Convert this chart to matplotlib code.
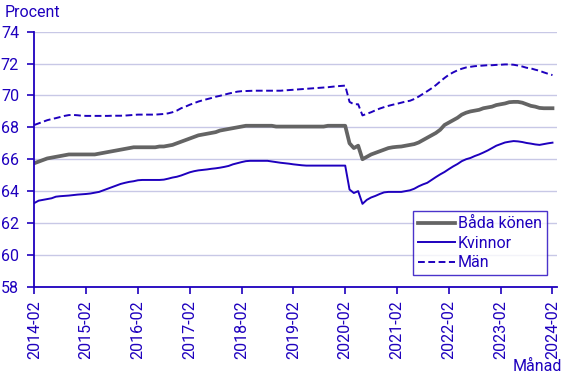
import numpy as np
import pandas as pd
import matplotlib
matplotlib.use('Agg')
import matplotlib.pyplot as plt

# monthly values 2014-02 .. 2024-02, one row per 12 months
bada = [
    65.75, 65.85, 65.95, 66.05, 66.1, 66.15, 66.2, 66.25, 66.3, 66.3, 66.3, 66.3,
    66.3, 66.3, 66.3, 66.35, 66.4, 66.45, 66.5, 66.55, 66.6, 66.65, 66.7, 66.75,
    66.75, 66.75, 66.75, 66.75, 66.75, 66.8, 66.8, 66.85, 66.9, 67.0, 67.1, 67.2,
    67.3, 67.4, 67.5, 67.55, 67.6, 67.65, 67.7, 67.8, 67.85, 67.9, 67.95, 68.0,
    68.05, 68.1, 68.1, 68.1, 68.1, 68.1, 68.1, 68.1, 68.05, 68.05, 68.05, 68.05,
    68.05, 68.05, 68.05, 68.05, 68.05, 68.05, 68.05, 68.05, 68.1, 68.1, 68.1, 68.1,
    68.1, 67.0, 66.7, 66.85, 66.0, 66.15, 66.3, 66.4, 66.5, 66.6, 66.7, 66.75,
    66.78, 66.8, 66.85, 66.9, 66.95, 67.05, 67.2, 67.35, 67.5, 67.65, 67.85, 68.15,
    68.3, 68.45, 68.6, 68.8, 68.92, 69.0, 69.05, 69.1, 69.2, 69.25, 69.3, 69.4,
    69.45, 69.5, 69.58, 69.6, 69.6, 69.55, 69.45, 69.35, 69.3, 69.22, 69.2, 69.2,
    69.2,
]
kvinnor = [
    63.25, 63.4, 63.45, 63.5, 63.55, 63.65, 63.68, 63.7, 63.72, 63.75, 63.78, 63.8,
    63.82, 63.85, 63.9, 63.95, 64.05, 64.15, 64.25, 64.35, 64.45, 64.52, 64.58, 64.62,
    64.68, 64.7, 64.7, 64.7, 64.7, 64.7, 64.72, 64.78, 64.85, 64.9, 64.98, 65.08,
    65.18, 65.25, 65.3, 65.33, 65.36, 65.4, 65.43, 65.47, 65.52, 65.58, 65.68, 65.75,
    65.82, 65.88, 65.9, 65.9, 65.9, 65.9, 65.9, 65.86, 65.82, 65.78, 65.75, 65.72,
    65.68, 65.65, 65.62, 65.6, 65.6, 65.6, 65.6, 65.6, 65.6, 65.6, 65.6, 65.6,
    65.6, 64.1, 63.88, 64.0, 63.2, 63.45, 63.6, 63.7, 63.82, 63.92, 63.95, 63.95,
    63.95, 63.95, 64.0, 64.05, 64.15, 64.3, 64.42, 64.52, 64.7, 64.88, 65.05, 65.2,
    65.38, 65.55, 65.7, 65.88, 66.0, 66.08, 66.2, 66.3, 66.42, 66.55, 66.7, 66.85,
    66.95, 67.05, 67.1, 67.14, 67.12, 67.08, 67.02, 66.98, 66.93, 66.9, 66.95, 67.0,
    67.04,
]
man = [
    68.15, 68.25, 68.35, 68.45, 68.52, 68.58, 68.65, 68.72, 68.77, 68.78, 68.76, 68.73,
    68.72, 68.72, 68.72, 68.72, 68.72, 68.72, 68.73, 68.73, 68.73, 68.74, 68.76, 68.78,
    68.8, 68.8, 68.8, 68.8, 68.8, 68.82, 68.84, 68.88, 68.95, 69.05, 69.2, 69.3,
    69.42, 69.52, 69.62, 69.7, 69.77, 69.84, 69.92, 69.98, 70.05, 70.12, 70.18, 70.24,
    70.27, 70.28, 70.29, 70.3, 70.3, 70.3, 70.3, 70.3, 70.3, 70.3, 70.32, 70.34,
    70.36, 70.38, 70.4, 70.42, 70.44, 70.46, 70.48, 70.5, 70.52, 70.55, 70.58, 70.6,
    70.62, 69.6, 69.45, 69.45, 68.75, 68.85, 68.95, 69.07, 69.18, 69.27, 69.35, 69.42,
    69.48, 69.55, 69.62, 69.67, 69.78, 69.93, 70.1, 70.27, 70.45, 70.65, 70.88, 71.1,
    71.3, 71.45, 71.58, 71.68, 71.76, 71.8, 71.84, 71.86, 71.88, 71.9, 71.9, 71.92,
    71.93, 71.95, 71.95, 71.93, 71.88, 71.82, 71.74, 71.7, 71.62, 71.55, 71.45, 71.36,
    71.28,
]

months = pd.date_range('2014-02-01', periods=len(bada), freq='MS')
tick_labels = [m.strftime('%Y-%m') for m in months[::12]]
x = np.arange(len(months))

blue = '#1e00be'
gray = '#646464'
grid = '#c8c8e6'
fs = 11.5

plt.rcParams['font.family'] = ['Roboto', 'DejaVu Sans']
plt.rcParams['font.size'] = fs

fig = plt.figure(figsize=(5.67, 3.78), dpi=100)
ax = fig.add_axes([0.0605, 0.2415, 0.9215, 0.6745])

ax.plot(x, bada, color=gray, lw=2.7, label='Båda könen')
ax.plot(x, kvinnor, color=blue, lw=1.4, label='Kvinnor')
ax.plot(x, man, color=blue, lw=1.4, ls=(0, (3.5, 1.8)), label='Män')

ax.set_xlim(0, len(months))
ax.set_ylim(58, 74)
ax.set_yticks(np.arange(58, 75, 2))
ax.set_xticks(x[::12])
ax.set_xticklabels(tick_labels, rotation=90)

ax.grid(axis='y', color=grid, lw=1)
ax.set_axisbelow(True)
for s in ['top', 'right']:
    ax.spines[s].set_visible(False)
for s in ['left', 'bottom']:
    ax.spines[s].set_color(blue)
    ax.spines[s].set_linewidth(1.3)
ax.tick_params(colors=blue, labelcolor=blue, length=5, width=1.2, labelsize=fs)
ax.tick_params(axis='x', pad=4.5)
ax.tick_params(axis='y', pad=6)

fig.text(0.009, 0.968, 'Procent', color=blue, fontsize=fs, va='center', ha='left')
fig.text(0.992, 0.03, 'Månad', color=blue, fontsize=fs, va='center', ha='right')

leg = ax.legend(loc='lower right', bbox_to_anchor=(0.981, 0.046), borderaxespad=0,
                frameon=True, fancybox=False, handlelength=2.3, handletextpad=0.2,
                labelspacing=0.28, borderpad=0.3, fontsize=fs)
leg.get_frame().set_edgecolor(blue)
leg.get_frame().set_linewidth(1.0)
for t in leg.get_texts():
    t.set_color(blue)

fig.savefig('out.png', dpi=100)
